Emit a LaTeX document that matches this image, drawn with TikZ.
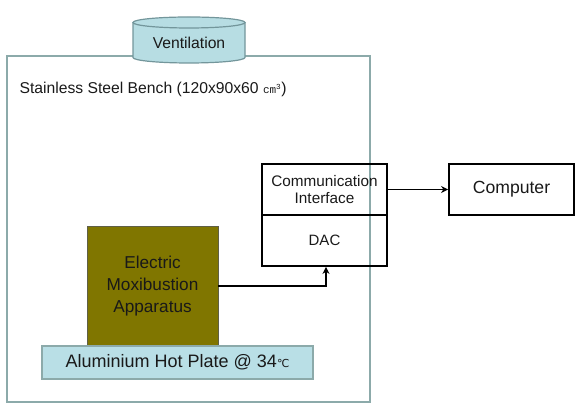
\documentclass[tikz,border=0pt]{standalone}
\usepackage{fontspec}
\setmainfont{Liberation Sans}
\newfontfamily\symfont{DejaVu Sans}
\newfontfamily\unitfont{Liberation Mono}
\usetikzlibrary{arrows.meta}

\definecolor{benchline}{RGB}{140,170,170}
\definecolor{ventfill}{RGB}{183,221,227}
\definecolor{ventline}{RGB}{115,150,155}
\definecolor{moxifill}{RGB}{128,118,0}
\definecolor{moxiline}{RGB}{95,95,70}
\definecolor{platefill}{RGB}{185,223,230}
\definecolor{ink}{RGB}{25,25,25}

\tikzset{
    box/.style={draw, line width=1.9pt, rectangle, minimum width=125pt,
        minimum height=51pt, inner sep=0pt, align=center},
    link/.style={line width=1.9pt, -{Stealth[length=7pt,width=7pt]}},
}

\begin{document}
\begin{tikzpicture}[x=1pt, y=1pt, text=ink]
    \useasboundingbox (0, 0) rectangle (586, 411);

    % bench
    \draw[benchline, line width=1.4pt] (7, 9) rectangle (370, 355);
    \node[anchor=west, font=\fontsize{15.7}{18}\selectfont] (bench) at (16, 322)
        {Stainless Steel Bench (120x90x60 {\unitfont\fontsize{11}{12}\selectfont cm\textsuperscript{3}})};

    % ventilation
    \fill[ventfill] (133, 353.5) arc (180:360:56 and 5.5) -- (245, 388.5)
        arc (0:180:56 and 5.5) -- cycle;
    \draw[ventline, line width=1.2pt] (133, 388.5) -- (133, 353.5)
        arc (180:360:56 and 5.5) -- (245, 388.5);
    \draw[ventline, line width=1.2pt] (189, 388.5) ellipse (56 and 5.5);
    \node[font=\fontsize{15.7}{18}\selectfont] (vent) at (189, 368) {Ventilation};

    % interface, converter, computer
    \node[box, font=\fontsize{15.3}{17.5}\selectfont] (comm) at (324.5, 221.5)
        {Communication\\Interface};
    \node[box, font=\fontsize{15}{17}\selectfont] (dac) at (324.5, 170.5) {DAC};
    \node[box, font=\fontsize{17.6}{20}\selectfont] (computer) at (511.5, 221.5) {Computer};

    % apparatus on hot plate
    \node[draw=moxiline, fill=moxifill, line width=0.8pt, minimum width=131pt,
        minimum height=120pt, inner sep=0pt, align=center,
        font=\fontsize{17.2}{21.7}\selectfont] (moxi) at (152.5, 125)
        {Electric\\Moxibustion\\Apparatus};
    \node[draw=benchline, fill=platefill, line width=1.2pt, minimum width=271pt,
        minimum height=33pt, inner sep=0pt, font=\fontsize{18}{20}\selectfont]
        (plate) at (177.5, 48.5)
        {Aluminium Hot Plate @ 34{\symfont\fontsize{11}{12}\selectfont ℃}};

    % signal path
    \draw[link] (moxi.east) -| ([xshift=1.5pt]dac.south);
    \draw[link] (comm.east) -- (computer.west);
\end{tikzpicture}
\end{document}
